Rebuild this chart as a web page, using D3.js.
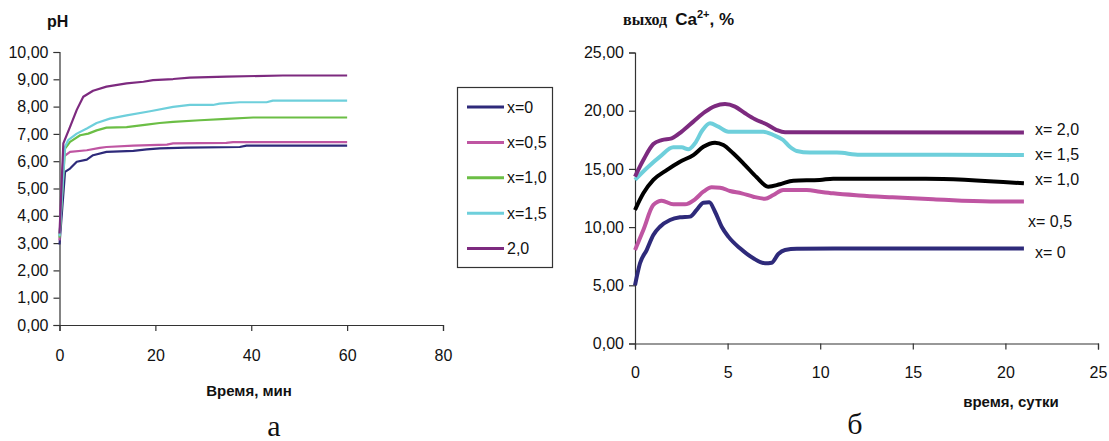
<!DOCTYPE html>
<html>
  <head>
    <meta charset="utf-8">
    <title></title>
    <script src="https://d3js.org/d3.v7.min.js"></script>
    <style>
      body { margin: 0; background: #fff; }
      text { font-family: "Liberation Sans", Arial, sans-serif; fill: #111; }
      .serif { font-family: "Liberation Serif", "Times New Roman", serif; }
    </style>
  </head>
  <body>
  <svg id="chart" width="1109" height="441"></svg>
  <script>
    /* ------------------
      data
    ------------------ */

    // left chart: pH vs time, min
    var phNames  = ["x=0", "x=0,5", "x=1,0", "x=1,5", "2,0"];
    var phColors = ["#2e2a7a", "#bf55a2", "#6bbe45", "#6ecfdb", "#7d2a7f"];
    var phTime0   = [0, 1.15, 2.2, 3.6, 5.7, 7, 9.8, 15.4, 18.2, 20.9, 26.5, 37.6, 39, 60];
    var phValues0 = [2.95, 5.61, 5.73, 5.98, 6.06, 6.22, 6.34, 6.38, 6.43, 6.47, 6.5, 6.52, 6.57, 6.57];
    var phTime05   = [0, 0.8, 2.2, 5.7, 8.4, 9.8, 15.4, 22.4, 23.7, 34.8, 36.2, 60];
    var phValues05 = [3.1, 6.16, 6.34, 6.4, 6.49, 6.52, 6.57, 6.61, 6.65, 6.67, 6.7, 6.7];
    var phTime10   = [0, 1.15, 2.2, 4.3, 6, 7.75, 9.8, 14, 18.2, 20.9, 23.7, 29.3, 34.8, 40.4, 60];
    var phValues10 = [3.2, 6.46, 6.71, 6.95, 7.01, 7.13, 7.23, 7.25, 7.34, 7.4, 7.44, 7.5, 7.55, 7.6, 7.6];
    var phTime15   = [0, 1.15, 1.8, 3.6, 5.7, 7.75, 10.5, 14, 18.9, 23.7, 27.2, 32, 33.4, 37.6, 43.2, 44.5, 60];
    var phValues15 = [3.25, 6.52, 6.77, 7.01, 7.2, 7.4, 7.56, 7.68, 7.83, 7.99, 8.06, 8.06, 8.11, 8.16, 8.16, 8.22, 8.22];
    var phTime20   = [0, 0.8, 2.2, 3.6, 4.96, 7, 9.8, 14, 17.5, 19.5, 23.7, 27.2, 34.8, 46.6, 60];
    var phValues20 = [3.35, 6.65, 7.26, 7.88, 8.36, 8.58, 8.73, 8.85, 8.91, 8.97, 9.01, 9.06, 9.1, 9.14, 9.14];
    var phXTicks = [0, 20, 40, 60, 80];
    var phYTicks = [0, 1, 2, 3, 4, 5, 6, 7, 8, 9, 10];

    // right chart: Ca2+ yield, % vs time, days
    var caNames  = ["x= 0", "x= 0,5", "x= 1,0", "x= 1,5", "x= 2,0"];
    var caColors = ["#2e2a7a", "#bf55a2", "#000000", "#6ecfdb", "#7d2a7f"];
    var caDays0   = [0, 0.27, 0.63, 0.99, 1.35, 1.89, 2.43, 2.97, 3.33, 3.69, 4.01, 4.32, 4.68, 5.04, 5.67, 6.39, 7.02, 7.38, 7.74, 8.1, 8.73, 14, 21];
    var caValues0 = [5.0, 6.89, 8.03, 9.32, 10.03, 10.61, 10.84, 10.9, 11.47, 12.1, 12.13, 11.32, 10.03, 9.18, 8.18, 7.32, 6.89, 6.94, 7.69, 8.03, 8.14, 8.16, 8.16];
    var caDays05   = [0, 0.45, 0.99, 1.44, 2.07, 2.7, 3.24, 3.69, 4.14, 4.59, 5.13, 5.76, 6.39, 7.02, 7.47, 8.0, 9.27, 9.98, 10.7, 12.1, 13.9, 16.1, 19.2, 21];
    var caValues05 = [8.03, 9.75, 11.9, 12.27, 11.96, 11.96, 12.39, 13.04, 13.42, 13.39, 13.1, 12.9, 12.61, 12.44, 12.76, 13.19, 13.19, 13.04, 12.9, 12.72, 12.56, 12.39, 12.2, 12.2];
    var caDays10   = [0, 0.45, 0.99, 1.71, 2.43, 3.15, 3.69, 4.32, 4.77, 5.3, 5.94, 6.57, 7.2, 7.83, 8.55, 9.98, 10.7, 15.7, 21];
    var caValues10 = [11.47, 12.9, 14.05, 14.9, 15.62, 16.19, 16.9, 17.25, 17.05, 16.34, 15.33, 14.28, 13.47, 13.68, 13.99, 14.05, 14.16, 14.16, 13.76];
    var caDays15   = [0, 0.63, 1.35, 2.07, 2.52, 2.88, 3.24, 3.65, 4.05, 4.5, 5.04, 6.93, 7.47, 8.0, 8.36, 8.73, 9.44, 10.9, 12.14, 21];
    var caValues15 = [14.05, 15.05, 16.05, 16.85, 16.85, 16.68, 17.2, 18.34, 18.92, 18.63, 18.2, 18.2, 17.91, 17.48, 16.9, 16.54, 16.4, 16.4, 16.22, 16.2];
    var caDays20   = [0, 0.45, 0.99, 1.44, 1.98, 2.52, 3.15, 3.78, 4.32, 4.86, 5.4, 5.94, 6.48, 7.1, 7.65, 8.1, 21];
    var caValues20 = [14.33, 15.76, 17.14, 17.48, 17.63, 18.2, 19.06, 19.9, 20.4, 20.57, 20.35, 19.78, 19.26, 18.83, 18.34, 18.14, 18.12];
    var caXTicks = [0, 5, 10, 15, 20, 25];
    var caYTicks = [0, 5, 10, 15, 20, 25];

    /* ------------------
      helpers
    ------------------ */

    var svg = d3.select('#chart');
    var comma = function(d) { return d3.format('.2f')(d).replace('.', ','); };

    function zip(xs, ys) {
      return xs.map(function(x, i) { return { x: x, y: ys[i] }; });
    }

    function styleAxis(g) {
      g.select('.domain').attr('stroke', '#333').attr('stroke-width', 1.2);
      g.selectAll('.tick line').attr('stroke', '#333').attr('stroke-width', 1.2);
      g.selectAll('.tick text').style('font-size', '16px').attr('fill', '#111');
    }

    /* ------------------
      left chart (a)
    ------------------ */

    var xL = d3.scaleLinear().domain([0, 80]).range([59.5, 443]);
    var yL = d3.scaleLinear().domain([0, 10]).range([325, 52]);

    var gL = svg.append('g');
    gL.append('g').attr('transform', 'translate(0,' + yL(0) + ')')
      .call(d3.axisBottom(xL).tickValues(phXTicks).tickSize(6).tickPadding(19).tickFormat(d3.format('d')))
      .call(styleAxis);
    gL.append('g').attr('transform', 'translate(' + xL(0) + ',0)')
      .call(d3.axisLeft(yL).tickValues(phYTicks).tickSize(6).tickPadding(5).tickFormat(comma))
      .call(styleAxis);

    var phSeries = [
      zip(phTime0, phValues0), zip(phTime05, phValues05), zip(phTime10, phValues10),
      zip(phTime15, phValues15), zip(phTime20, phValues20)
    ];
    var lineL = d3.line().x(function(d) { return xL(d.x); }).y(function(d) { return yL(d.y); });
    gL.selectAll('path.ph').data(phSeries).enter().append('path')
      .attr('class', 'ph')
      .attr('d', lineL)
      .attr('fill', 'none')
      .attr('stroke', function(d, i) { return phColors[i]; })
      .attr('stroke-width', 2.2)
      .attr('stroke-linejoin', 'round');

    gL.append('text').attr('x', 47).attr('y', 27).style('font-size', '16px').style('font-weight', 'bold').text('pH');
    gL.append('text').attr('x', 249).attr('y', 396).attr('text-anchor', 'middle')
      .style('font-size', '15px').style('font-weight', 'bold').text('Время, мин');
    gL.append('text').attr('class', 'serif').attr('x', 274).attr('y', 436).attr('text-anchor', 'middle')
      .style('font-size', '30px').text('а');

    // legend
    var legend = svg.append('g');
    legend.append('rect').attr('x', 457.5).attr('y', 87.5).attr('width', 95).attr('height', 180)
      .attr('fill', '#fff').attr('stroke', '#333').attr('stroke-width', 1.2);
    var items = legend.selectAll('g.item').data(phNames).enter().append('g')
      .attr('class', 'item')
      .attr('transform', function(d, i) { return 'translate(0,' + (107 + i * 35.4) + ')'; });
    items.append('line').attr('x1', 467).attr('x2', 504).attr('y1', 0).attr('y2', 0)
      .attr('stroke', function(d, i) { return phColors[i]; }).attr('stroke-width', 3);
    items.append('text').attr('x', 507).attr('y', 0).attr('dy', '0.35em')
      .style('font-size', '16px').text(function(d) { return d; });

    /* ------------------
      right chart (б)
    ------------------ */

    var xR = d3.scaleLinear().domain([0, 25]).range([635, 1098]);
    var yR = d3.scaleLinear().domain([0, 25]).range([343.5, 52.5]);

    var gR = svg.append('g');
    gR.append('g').attr('transform', 'translate(0,' + yR(0) + ')')
      .call(d3.axisBottom(xR).tickValues(caXTicks).tickSize(6).tickPadding(17).tickFormat(d3.format('d')))
      .call(styleAxis);
    gR.append('g').attr('transform', 'translate(' + xR(0) + ',0)')
      .call(d3.axisLeft(yR).tickValues(caYTicks).tickSize(6).tickPadding(5).tickFormat(comma))
      .call(styleAxis);

    var caSeries = [
      zip(caDays0, caValues0), zip(caDays05, caValues05), zip(caDays10, caValues10),
      zip(caDays15, caValues15), zip(caDays20, caValues20)
    ];
    var lineR = d3.line().curve(d3.curveMonotoneX)
      .x(function(d) { return xR(d.x); }).y(function(d) { return yR(d.y); });
    gR.selectAll('path.ca').data(caSeries).enter().append('path')
      .attr('class', 'ca')
      .attr('d', lineR)
      .attr('fill', 'none')
      .attr('stroke', function(d, i) { return caColors[i]; })
      .attr('stroke-width', 4)
      .attr('stroke-linejoin', 'round');

    // labels at the line ends
    var labelX = [1035, 1028, 1035, 1035, 1035];
    var labelY = [258, 227, 185, 160, 135];
    gR.selectAll('text.lbl').data(caNames).enter().append('text')
      .attr('class', 'lbl')
      .attr('x', function(d, i) { return labelX[i]; })
      .attr('y', function(d, i) { return labelY[i]; })
      .style('font-size', '16px')
      .text(function(d) { return d; });

    var title = gR.append('text').attr('x', 623).attr('y', 25);
    title.append('tspan').attr('class', 'serif').style('font-size', '16px').style('font-weight', 'bold').text('выход ');
    title.append('tspan').style('font-size', '17px').style('font-weight', 'bold').attr('dx', 4).text('Ca');
    title.append('tspan').style('font-size', '11px').style('font-weight', 'bold').attr('dy', -7).text('2+');
    title.append('tspan').style('font-size', '17px').style('font-weight', 'bold').attr('dy', 7).text(', %');

    gR.append('text').attr('x', 1011).attr('y', 407).attr('text-anchor', 'middle')
      .style('font-size', '15px').style('font-weight', 'bold').text('время, сутки');
    gR.append('text').attr('class', 'serif').attr('x', 855).attr('y', 434).attr('text-anchor', 'middle')
      .style('font-size', '30px').text('б');
  </script>
</body>
</html>
